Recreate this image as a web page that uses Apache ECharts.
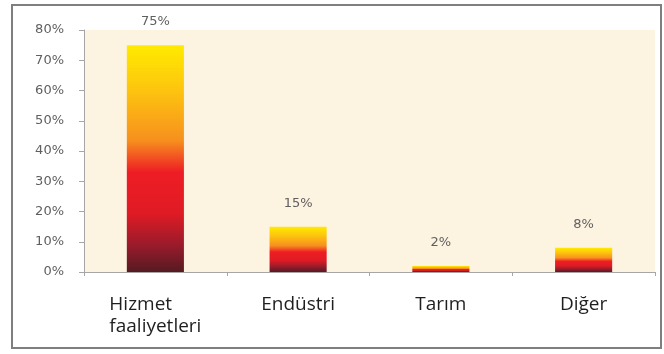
<!DOCTYPE html>
<html>
<head>
<meta charset="utf-8">
<script src="https://cdn.jsdelivr.net/npm/echarts@6/dist/echarts.min.js"></script>
<style>
  html, body { margin: 0; padding: 0; background: #ffffff; }
  #chart { width: 664px; height: 354px; }
</style>
</head>
<body>
<div id="chart"></div>
<script>
// Sector shares (percent)
const categories = ['Hizmet\nfaaliyetleri', 'Endüstri', 'Tarım', 'Diğer'];
const shares = [75, 15, 2, 8];
const yTicks = [0, 10, 20, 30, 40, 50, 60, 70, 80];

const chart = echarts.init(document.getElementById('chart'), null, { renderer: 'canvas' });

// Yellow → orange → red → maroon, top to bottom of each bar
const barFill = new echarts.graphic.LinearGradient(0, 0, 0, 1, [
  { offset: 0.00, color: '#FFEB00' },
  { offset: 0.20, color: '#FDC40F' },
  { offset: 0.42, color: '#F7901E' },
  { offset: 0.56, color: '#EE1D25' },
  { offset: 0.74, color: '#E01B24' },
  { offset: 0.88, color: '#9A1B2B' },
  { offset: 1.00, color: '#561A22' }
]);

chart.setOption({
  animation: false,
  backgroundColor: '#ffffff',
  textStyle: { fontFamily: 'Open Sans' },
  graphic: [
    {
      type: 'rect',
      shape: { x: 12, y: 5, width: 649, height: 343 },
      style: { fill: 'none', stroke: '#7f7f7f', lineWidth: 2 },
      z: 100
    }
  ],
  grid: {
    left: 84, right: 9, top: 30, bottom: 82,
    show: true, backgroundColor: '#FDF3E1', borderWidth: 0
  },
  xAxis: {
    type: 'category',
    data: categories,
    axisLine: { lineStyle: { color: '#a6a6a6', width: 1 } },
    axisTick: { show: true, length: 4, lineStyle: { color: '#a6a6a6' } },
    axisLabel: {
      interval: 0,
      hideOverlap: false,
      color: '#1f1f1f',
      fontSize: 19,
      fontFamily: 'Open Sans',
      margin: 22,
      lineHeight: 22,
      formatter: function (v) {
        if (v.indexOf('\n') >= 0) {
          return v.split('\n').map(function (s) { return '{l|' + s + '}'; }).join('\n');
        }
        return v;
      },
      rich: {
        l: { align: 'left', fontSize: 19, lineHeight: 22, color: '#1f1f1f', fontFamily: 'Open Sans' }
      }
    }
  },
  yAxis: {
    type: 'value',
    min: yTicks[0],
    max: yTicks[yTicks.length - 1],
    interval: 10,
    splitLine: { show: false },
    axisLine: { show: true, lineStyle: { color: '#a6a6a6' } },
    axisTick: { show: true, length: 5, lineStyle: { color: '#a6a6a6' } },
    axisLabel: {
      color: '#5f5f5f',
      fontSize: 13,
      fontFamily: 'DejaVu Sans',
      margin: 20,
      formatter: '{value}%'
    }
  },
  series: [
    {
      type: 'bar',
      data: shares,
      barWidth: '40%',
      itemStyle: { color: barFill },
      label: {
        show: true,
        position: 'top',
        distance: 17,
        color: '#5f5f5f',
        fontSize: 13,
        fontFamily: 'DejaVu Sans',
        formatter: '{c}%'
      }
    }
  ]
});
</script>
</body>
</html>
